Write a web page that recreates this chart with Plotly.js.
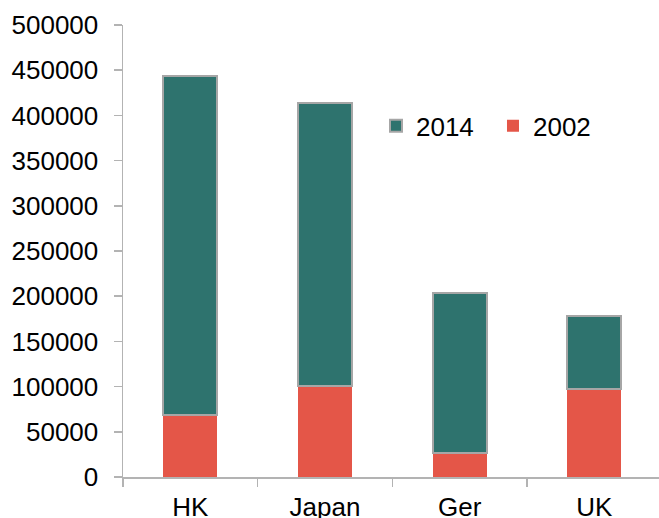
<!DOCTYPE html>
<html>
<head>
<meta charset="utf-8">
<script src="https://cdn.plot.ly/plotly-3.0.1.min.js"></script>
<style>html,body{margin:0;padding:0;background:#fff}#chart{width:659px;height:518px}</style>
</head>
<body>
<div id="chart"></div>
<script>
const categories = ["HK", "Japan", "Ger", "UK"];
const values2002 = [69000, 101000, 27000, 97000];
const values2014 = [375000, 313000, 177000, 81000];
const yTickVals = [0, 50000, 100000, 150000, 200000, 250000, 300000, 350000, 400000, 450000, 500000];

const axisColor = "#b3b3b3";
const fontFam = "Liberation Sans, Arial, sans-serif";

const traces = [
  {
    type: "bar", name: "2002", x: categories, y: values2002,
    marker: {color: "#e45648", line: {width: 0}},
    width: 0.4
  },
  {
    type: "bar", name: "2014", x: categories, y: values2014,
    marker: {color: "#2e736e", line: {color: "#a6a6a6", width: 2}},
    width: 0.4
  }
];

const layout = {
  width: 659, height: 518,
  margin: {l: 123, r: 0, t: 25, b: 41, pad: 0},
  paper_bgcolor: "#fff", plot_bgcolor: "#fff",
  barmode: "stack",
  font: {family: fontFam, size: 26, color: "#000"},
  showlegend: true,
  legend: {
    orientation: "h", traceorder: "reversed",
    x: 0.472, xanchor: "left", y: 0.777, yanchor: "middle",
    entrywidth: 72, entrywidthmode: "pixels",
    font: {family: fontFam, size: 26, color: "#000"},
    bgcolor: "rgba(0,0,0,0)"
  },
  xaxis: {
    type: "category", range: [-0.5, 3.48],
    showline: true, linecolor: axisColor, linewidth: 1.5,
    ticks: "outside", tickson: "boundaries", ticklen: 8, tickcolor: axisColor, tickwidth: 1.5,
    showgrid: false, zeroline: false,
    tickfont: {family: fontFam, size: 26, color: "#000"},
    ticklabelstandoff: 6
  },
  yaxis: {
    range: [0, 500000], tickvals: yTickVals, ticktext: yTickVals.map(String),
    showline: true, linecolor: axisColor, linewidth: 1.5,
    ticks: "outside", ticklen: 8, tickcolor: axisColor, tickwidth: 1.5,
    showgrid: false, zeroline: false,
    tickfont: {family: fontFam, size: 26, color: "#000"},
    ticklabelstandoff: 10
  }
};

Plotly.newPlot("chart", traces, layout, {staticPlot: true, displayModeBar: false});
</script>
</body>
</html>
